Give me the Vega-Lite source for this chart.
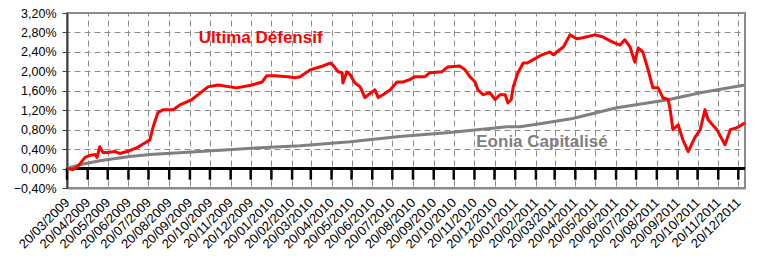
{
  "$schema": "https://vega.github.io/schema/vega-lite/v6.json",
  "width": 678,
  "height": 175,
  "autosize": {"type": "none"},
  "padding": {"left": 67, "top": 13, "right": 13, "bottom": 73},
  "config": {
    "font": "Liberation Sans",
    "view": {"stroke": "#8c8c8c", "strokeWidth": 2}
  },
  "datasets": {
    "series": [
      {"series": "Eonia Capitalisé", "date": "2009-03-20", "value": 0.0},
      {"series": "Eonia Capitalisé", "date": "2009-04-08", "value": 0.08},
      {"series": "Eonia Capitalisé", "date": "2009-05-08", "value": 0.16},
      {"series": "Eonia Capitalisé", "date": "2009-06-22", "value": 0.25},
      {"series": "Eonia Capitalisé", "date": "2009-07-22", "value": 0.29},
      {"series": "Eonia Capitalisé", "date": "2009-10-05", "value": 0.35},
      {"series": "Eonia Capitalisé", "date": "2010-01-03", "value": 0.43},
      {"series": "Eonia Capitalisé", "date": "2010-03-04", "value": 0.47},
      {"series": "Eonia Capitalisé", "date": "2010-05-18", "value": 0.55},
      {"series": "Eonia Capitalisé", "date": "2010-07-31", "value": 0.66},
      {"series": "Eonia Capitalisé", "date": "2010-10-14", "value": 0.74},
      {"series": "Eonia Capitalisé", "date": "2011-01-08", "value": 0.86},
      {"series": "Eonia Capitalisé", "date": "2011-01-27", "value": 0.86},
      {"series": "Eonia Capitalisé", "date": "2011-02-26", "value": 0.92},
      {"series": "Eonia Capitalisé", "date": "2011-04-16", "value": 1.03},
      {"series": "Eonia Capitalisé", "date": "2011-06-21", "value": 1.25},
      {"series": "Eonia Capitalisé", "date": "2011-08-25", "value": 1.39},
      {"series": "Eonia Capitalisé", "date": "2011-09-04", "value": 1.41},
      {"series": "Eonia Capitalisé", "date": "2011-10-24", "value": 1.56},
      {"series": "Eonia Capitalisé", "date": "2011-12-30", "value": 1.72},
      {"series": "Ultima Défensif", "date": "2009-03-20", "value": 0.0},
      {"series": "Ultima Défensif", "date": "2009-03-29", "value": -0.02},
      {"series": "Ultima Défensif", "date": "2009-04-05", "value": 0.04},
      {"series": "Ultima Défensif", "date": "2009-04-16", "value": 0.23},
      {"series": "Ultima Défensif", "date": "2009-04-23", "value": 0.27},
      {"series": "Ultima Défensif", "date": "2009-05-01", "value": 0.29},
      {"series": "Ultima Défensif", "date": "2009-05-04", "value": 0.23},
      {"series": "Ultima Défensif", "date": "2009-05-08", "value": 0.45},
      {"series": "Ultima Défensif", "date": "2009-05-13", "value": 0.33},
      {"series": "Ultima Défensif", "date": "2009-05-19", "value": 0.33},
      {"series": "Ultima Défensif", "date": "2009-05-31", "value": 0.35},
      {"series": "Ultima Défensif", "date": "2009-06-07", "value": 0.31},
      {"series": "Ultima Défensif", "date": "2009-06-18", "value": 0.35},
      {"series": "Ultima Défensif", "date": "2009-07-03", "value": 0.43},
      {"series": "Ultima Défensif", "date": "2009-07-15", "value": 0.53},
      {"series": "Ultima Défensif", "date": "2009-07-22", "value": 0.59},
      {"series": "Ultima Défensif", "date": "2009-07-27", "value": 0.86},
      {"series": "Ultima Défensif", "date": "2009-08-03", "value": 1.15},
      {"series": "Ultima Défensif", "date": "2009-08-11", "value": 1.21},
      {"series": "Ultima Défensif", "date": "2009-08-26", "value": 1.21},
      {"series": "Ultima Défensif", "date": "2009-09-05", "value": 1.31},
      {"series": "Ultima Défensif", "date": "2009-09-23", "value": 1.42},
      {"series": "Ultima Défensif", "date": "2009-10-17", "value": 1.68},
      {"series": "Ultima Défensif", "date": "2009-11-01", "value": 1.72},
      {"series": "Ultima Défensif", "date": "2009-11-29", "value": 1.66},
      {"series": "Ultima Défensif", "date": "2009-12-22", "value": 1.72},
      {"series": "Ultima Défensif", "date": "2010-01-06", "value": 1.78},
      {"series": "Ultima Défensif", "date": "2010-01-13", "value": 1.91},
      {"series": "Ultima Défensif", "date": "2010-01-25", "value": 1.91},
      {"series": "Ultima Défensif", "date": "2010-02-14", "value": 1.89},
      {"series": "Ultima Défensif", "date": "2010-02-24", "value": 1.87},
      {"series": "Ultima Défensif", "date": "2010-03-04", "value": 1.89},
      {"series": "Ultima Défensif", "date": "2010-03-19", "value": 2.03},
      {"series": "Ultima Défensif", "date": "2010-04-07", "value": 2.11},
      {"series": "Ultima Défensif", "date": "2010-04-18", "value": 2.17},
      {"series": "Ultima Défensif", "date": "2010-04-22", "value": 2.13},
      {"series": "Ultima Défensif", "date": "2010-04-30", "value": 1.99},
      {"series": "Ultima Défensif", "date": "2010-05-06", "value": 1.97},
      {"series": "Ultima Défensif", "date": "2010-05-07", "value": 1.76},
      {"series": "Ultima Défensif", "date": "2010-05-13", "value": 1.99},
      {"series": "Ultima Défensif", "date": "2010-05-18", "value": 1.93},
      {"series": "Ultima Défensif", "date": "2010-05-25", "value": 1.76},
      {"series": "Ultima Défensif", "date": "2010-06-02", "value": 1.68},
      {"series": "Ultima Défensif", "date": "2010-06-09", "value": 1.46},
      {"series": "Ultima Défensif", "date": "2010-06-20", "value": 1.58},
      {"series": "Ultima Défensif", "date": "2010-06-24", "value": 1.62},
      {"series": "Ultima Défensif", "date": "2010-06-29", "value": 1.46},
      {"series": "Ultima Défensif", "date": "2010-07-06", "value": 1.52},
      {"series": "Ultima Défensif", "date": "2010-07-17", "value": 1.62},
      {"series": "Ultima Défensif", "date": "2010-07-27", "value": 1.78},
      {"series": "Ultima Défensif", "date": "2010-08-05", "value": 1.78},
      {"series": "Ultima Défensif", "date": "2010-08-15", "value": 1.83},
      {"series": "Ultima Défensif", "date": "2010-08-23", "value": 1.89},
      {"series": "Ultima Défensif", "date": "2010-09-07", "value": 1.89},
      {"series": "Ultima Défensif", "date": "2010-09-14", "value": 1.97},
      {"series": "Ultima Défensif", "date": "2010-10-02", "value": 1.99},
      {"series": "Ultima Défensif", "date": "2010-10-11", "value": 2.09},
      {"series": "Ultima Défensif", "date": "2010-10-29", "value": 2.11},
      {"series": "Ultima Défensif", "date": "2010-11-06", "value": 2.03},
      {"series": "Ultima Défensif", "date": "2010-11-13", "value": 1.89},
      {"series": "Ultima Défensif", "date": "2010-11-21", "value": 1.78},
      {"series": "Ultima Défensif", "date": "2010-11-25", "value": 1.62},
      {"series": "Ultima Défensif", "date": "2010-12-03", "value": 1.52},
      {"series": "Ultima Défensif", "date": "2010-12-13", "value": 1.56},
      {"series": "Ultima Défensif", "date": "2010-12-21", "value": 1.42},
      {"series": "Ultima Défensif", "date": "2010-12-28", "value": 1.52},
      {"series": "Ultima Défensif", "date": "2011-01-05", "value": 1.52},
      {"series": "Ultima Défensif", "date": "2011-01-09", "value": 1.35},
      {"series": "Ultima Défensif", "date": "2011-01-14", "value": 1.42},
      {"series": "Ultima Défensif", "date": "2011-01-17", "value": 1.68},
      {"series": "Ultima Défensif", "date": "2011-01-24", "value": 1.97},
      {"series": "Ultima Défensif", "date": "2011-02-01", "value": 2.17},
      {"series": "Ultima Défensif", "date": "2011-02-07", "value": 2.17},
      {"series": "Ultima Défensif", "date": "2011-02-16", "value": 2.24},
      {"series": "Ultima Défensif", "date": "2011-03-01", "value": 2.34},
      {"series": "Ultima Défensif", "date": "2011-03-13", "value": 2.40},
      {"series": "Ultima Défensif", "date": "2011-03-18", "value": 2.34},
      {"series": "Ultima Défensif", "date": "2011-04-02", "value": 2.50},
      {"series": "Ultima Défensif", "date": "2011-04-12", "value": 2.75},
      {"series": "Ultima Défensif", "date": "2011-04-22", "value": 2.67},
      {"series": "Ultima Défensif", "date": "2011-05-01", "value": 2.69},
      {"series": "Ultima Défensif", "date": "2011-05-19", "value": 2.75},
      {"series": "Ultima Défensif", "date": "2011-05-31", "value": 2.71},
      {"series": "Ultima Défensif", "date": "2011-06-15", "value": 2.60},
      {"series": "Ultima Défensif", "date": "2011-06-26", "value": 2.54},
      {"series": "Ultima Défensif", "date": "2011-07-03", "value": 2.65},
      {"series": "Ultima Défensif", "date": "2011-07-11", "value": 2.50},
      {"series": "Ultima Défensif", "date": "2011-07-18", "value": 2.19},
      {"series": "Ultima Défensif", "date": "2011-07-23", "value": 2.48},
      {"series": "Ultima Défensif", "date": "2011-07-30", "value": 2.40},
      {"series": "Ultima Défensif", "date": "2011-08-07", "value": 2.03},
      {"series": "Ultima Défensif", "date": "2011-08-14", "value": 1.66},
      {"series": "Ultima Défensif", "date": "2011-08-22", "value": 1.66},
      {"series": "Ultima Défensif", "date": "2011-08-29", "value": 1.46},
      {"series": "Ultima Défensif", "date": "2011-09-06", "value": 1.42},
      {"series": "Ultima Défensif", "date": "2011-09-09", "value": 1.21},
      {"series": "Ultima Défensif", "date": "2011-09-13", "value": 0.80},
      {"series": "Ultima Défensif", "date": "2011-09-21", "value": 0.90},
      {"series": "Ultima Défensif", "date": "2011-09-28", "value": 0.59},
      {"series": "Ultima Défensif", "date": "2011-10-06", "value": 0.35},
      {"series": "Ultima Défensif", "date": "2011-10-16", "value": 0.64},
      {"series": "Ultima Défensif", "date": "2011-10-24", "value": 0.80},
      {"series": "Ultima Défensif", "date": "2011-10-31", "value": 1.21},
      {"series": "Ultima Défensif", "date": "2011-11-05", "value": 1.00},
      {"series": "Ultima Défensif", "date": "2011-11-18", "value": 0.80},
      {"series": "Ultima Défensif", "date": "2011-11-30", "value": 0.49},
      {"series": "Ultima Défensif", "date": "2011-12-08", "value": 0.80},
      {"series": "Ultima Défensif", "date": "2011-12-18", "value": 0.84},
      {"series": "Ultima Défensif", "date": "2011-12-30", "value": 0.94}
    ],
    "labels": [
      {"series": "Ultima Défensif", "date": "2010-01-04", "value": 2.69},
      {"series": "Eonia Capitalisé", "date": "2011-03-01", "value": 0.55}
    ],
    "months": [
      {"date": "2009-03-20"}, {"date": "2009-04-20"}, {"date": "2009-05-20"}, {"date": "2009-06-20"},
      {"date": "2009-07-20"}, {"date": "2009-08-20"}, {"date": "2009-09-20"}, {"date": "2009-10-20"},
      {"date": "2009-11-20"}, {"date": "2009-12-20"}, {"date": "2010-01-20"}, {"date": "2010-02-20"},
      {"date": "2010-03-20"}, {"date": "2010-04-20"}, {"date": "2010-05-20"}, {"date": "2010-06-20"},
      {"date": "2010-07-20"}, {"date": "2010-08-20"}, {"date": "2010-09-20"}, {"date": "2010-10-20"},
      {"date": "2010-11-20"}, {"date": "2010-12-20"}, {"date": "2011-01-20"}, {"date": "2011-02-20"},
      {"date": "2011-03-20"}, {"date": "2011-04-20"}, {"date": "2011-05-20"}, {"date": "2011-06-20"},
      {"date": "2011-07-20"}, {"date": "2011-08-20"}, {"date": "2011-09-20"}, {"date": "2011-10-20"},
      {"date": "2011-11-20"}, {"date": "2011-12-20"}
    ]
  },
  "layer": [
    {
      "data": {"values": [{}]},
      "mark": {"type": "rule", "color": "#000000", "strokeWidth": 3},
      "encoding": {
        "y": {"datum": 0, "type": "quantitative"}
      }
    },
    {
      "data": {"name": "months"},
      "mark": {"type": "rule", "color": "#000000", "strokeWidth": 2.5},
      "encoding": {
        "x": {"field": "date", "type": "temporal"},
        "y": {"datum": 0.02, "type": "quantitative"},
        "y2": {"datum": -0.23}
      }
    },
    {
      "data": {"name": "series"},
      "mark": {"type": "line", "strokeWidth": 3, "strokeJoin": "round"},
      "encoding": {
        "x": {
          "field": "date", "type": "temporal",
          "scale": {"type": "utc", "domain": [{"year": 2009, "month": 3, "date": 20, "utc": true}, {"year": 2011, "month": 12, "date": 30, "utc": true}]},
          "axis": {
            "title": null,
            "tickCount": 100,
            "values": [
              {"year": 2009, "month": 3, "date": 20, "utc": true}, {"year": 2009, "month": 4, "date": 20, "utc": true},
              {"year": 2009, "month": 5, "date": 20, "utc": true}, {"year": 2009, "month": 6, "date": 20, "utc": true},
              {"year": 2009, "month": 7, "date": 20, "utc": true}, {"year": 2009, "month": 8, "date": 20, "utc": true},
              {"year": 2009, "month": 9, "date": 20, "utc": true}, {"year": 2009, "month": 10, "date": 20, "utc": true},
              {"year": 2009, "month": 11, "date": 20, "utc": true}, {"year": 2009, "month": 12, "date": 20, "utc": true},
              {"year": 2010, "month": 1, "date": 20, "utc": true}, {"year": 2010, "month": 2, "date": 20, "utc": true},
              {"year": 2010, "month": 3, "date": 20, "utc": true}, {"year": 2010, "month": 4, "date": 20, "utc": true},
              {"year": 2010, "month": 5, "date": 20, "utc": true}, {"year": 2010, "month": 6, "date": 20, "utc": true},
              {"year": 2010, "month": 7, "date": 20, "utc": true}, {"year": 2010, "month": 8, "date": 20, "utc": true},
              {"year": 2010, "month": 9, "date": 20, "utc": true}, {"year": 2010, "month": 10, "date": 20, "utc": true},
              {"year": 2010, "month": 11, "date": 20, "utc": true}, {"year": 2010, "month": 12, "date": 20, "utc": true},
              {"year": 2011, "month": 1, "date": 20, "utc": true}, {"year": 2011, "month": 2, "date": 20, "utc": true},
              {"year": 2011, "month": 3, "date": 20, "utc": true}, {"year": 2011, "month": 4, "date": 20, "utc": true},
              {"year": 2011, "month": 5, "date": 20, "utc": true}, {"year": 2011, "month": 6, "date": 20, "utc": true},
              {"year": 2011, "month": 7, "date": 20, "utc": true}, {"year": 2011, "month": 8, "date": 20, "utc": true},
              {"year": 2011, "month": 9, "date": 20, "utc": true}, {"year": 2011, "month": 10, "date": 20, "utc": true},
              {"year": 2011, "month": 11, "date": 20, "utc": true}, {"year": 2011, "month": 12, "date": 20, "utc": true}
            ],
            "format": "%d/%m/%Y",
            "labelAngle": -45,
            "labelAlign": "right",
            "labelBaseline": "middle",
            "labelPadding": 12,
            "labelFontSize": 13,
            "labelColor": "#000000",
            "labelOverlap": false,
            "labelFlush": false,
            "ticks": false,
            "grid": true,
            "gridColor": "#8c8c8c",
            "gridDash": [6, 4],
            "gridDashOffset": 3,
            "domainColor": "#8c8c8c",
            "domainWidth": 2
          }
        },
        "y": {
          "field": "value", "type": "quantitative",
          "scale": {"domain": [-0.4, 3.2], "nice": false, "zero": false},
          "axis": {
            "title": null,
            "tickCount": 100,
            "values": [-0.4, 0, 0.4, 0.8, 1.2, 1.6, 2.0, 2.4, 2.8, 3.2],
            "labelExpr": "replace(format(datum.value, '.2f'), '.', ',') + '%'",
            "labelFontSize": 12.5,
            "labelColor": "#000000",
            "labelPadding": 6,
            "labelOverlap": false,
            "tickSize": 5,
            "tickColor": "#404040",
            "domainColor": "#404040",
            "domainWidth": 2,
            "grid": true,
            "gridColor": "#8c8c8c",
            "gridDash": [6, 4],
            "gridDashOffset": 3
          }
        },
        "color": {
          "field": "series", "type": "nominal",
          "scale": {"domain": ["Eonia Capitalisé", "Ultima Défensif"], "range": ["#808080", "#ff0000"]},
          "legend": null
        }
      }
    },
    {
      "data": {"name": "labels"},
      "mark": {"type": "text", "fontSize": 17, "fontWeight": "bold", "align": "center", "baseline": "middle"},
      "encoding": {
        "x": {"field": "date", "type": "temporal"},
        "y": {"field": "value", "type": "quantitative"},
        "text": {"field": "series"},
        "color": {"field": "series", "type": "nominal"}
      }
    }
  ]
}
